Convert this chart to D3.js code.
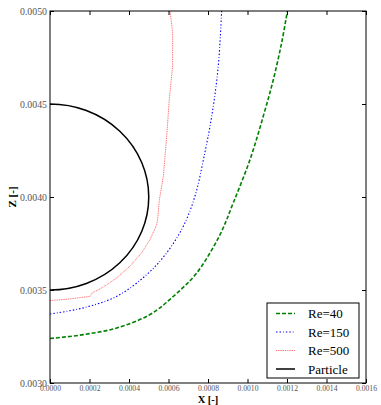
<!DOCTYPE html>
<html>
<head>
<meta charset="utf-8">
<script src="https://cdn.jsdelivr.net/npm/d3@7"></script>
<style>
  body { margin: 0; background: #fff; }
</style>
</head>
<body>
<div id="chart"></div>
<script>
// data (X [-], Z [-])
var re40X  = [0, 0.000169, 0.000338, 0.000506, 0.000625, 0.000743, 0.000861, 0.000928, 0.001013, 0.00108, 0.001131, 0.001173, 0.001202];
var re40Z  = [0.003239, 0.00326, 0.003296, 0.003368, 0.003466, 0.003592, 0.003798, 0.003969, 0.004202, 0.004435, 0.004632, 0.00483, 0.005];
var re150X = [0, 0.000169, 0.000338, 0.00049, 0.000591, 0.000675, 0.000734, 0.000777, 0.000819, 0.000852, 0.000869];
var re150Z = [0.003371, 0.003404, 0.003466, 0.003583, 0.0037, 0.003843, 0.004004, 0.004202, 0.004435, 0.004704, 0.005];
var re500X = [0, 0.000101, 0.000203, 0.000215, 0.000262, 0.000338, 0.000405, 0.000464, 0.000506, 0.00054, 0.000545, 0.000554, 0.000574, 0.000591, 0.000604, 0.000621, 0.000621, 0.000608];
var re500Z = [0.003443, 0.003452, 0.003466, 0.003485, 0.003511, 0.003565, 0.003628, 0.0037, 0.003771, 0.00385, 0.00388, 0.003987, 0.004112, 0.004327, 0.004525, 0.004704, 0.004883, 0.005];
var particleCenter = [0, 0.004];
var particleRadius = 0.0005;
var xTicks = [0, 0.0002, 0.0004, 0.0006, 0.0008, 0.0010, 0.0012, 0.0014, 0.0016];
var zTicks = [0.0030, 0.0035, 0.0040, 0.0045, 0.0050];
var seriesNames = ["Re=40", "Re=150", "Re=500", "Particle"];

var width = 381, height = 405;
var margin = {top: 11, right: 15, bottom: 22, left: 50};
var serif = "Liberation Serif";

var svg = d3.select("#chart").append("svg")
    .attr("width", width)
    .attr("height", height)
    .style("font-family", serif);

var x = d3.scaleLinear().domain([0, 0.0016]).range([margin.left, width - margin.right]);
var y = d3.scaleLinear().domain([0.003, 0.005]).range([height - margin.bottom, margin.top]);
var fmt = d3.format(".4f");

svg.append("clipPath").attr("id", "clip")
  .append("rect")
    .attr("x", x(0)).attr("y", y(0.005))
    .attr("width", x(0.0016) - x(0)).attr("height", y(0.003) - y(0.005));

var plot = svg.append("g").attr("clip-path", "url(#clip)");

function pairs(xs, zs) { return xs.map(function(d, i) { return [d, zs[i]]; }); }

var smooth = d3.line().x(function(d) { return x(d[0]); }).y(function(d) { return y(d[1]); })
    .curve(d3.curveCatmullRom);
var rough = d3.line().x(function(d) { return x(d[0]); }).y(function(d) { return y(d[1]); });

// particle
plot.append("ellipse")
    .attr("cx", x(particleCenter[0]))
    .attr("cy", y(particleCenter[1]))
    .attr("rx", x(particleRadius) - x(0))
    .attr("ry", y(particleCenter[1] - particleRadius) - y(particleCenter[1]))
    .attr("fill", "none").attr("stroke", "#000").attr("stroke-width", 1.5);

var styles = [
  {color: "#008000", dash: "4,2", w: 1.6},
  {color: "#0000ff", dash: "1.5,2,1.5,2,0.8,2", w: 1.1},
  {color: "#ff4444", dash: "1,0.8", w: 1.0},
  {color: "#000", dash: null, w: 1.5}
];

plot.append("path").attr("d", smooth(pairs(re40X, re40Z)))
    .attr("fill", "none").attr("stroke", styles[0].color).attr("stroke-width", styles[0].w)
    .attr("stroke-dasharray", styles[0].dash);
plot.append("path").attr("d", smooth(pairs(re150X, re150Z)))
    .attr("fill", "none").attr("stroke", styles[1].color).attr("stroke-width", styles[1].w)
    .attr("stroke-dasharray", styles[1].dash);
plot.append("path").attr("d", rough(pairs(re500X, re500Z)))
    .attr("fill", "none").attr("stroke", styles[2].color).attr("stroke-width", styles[2].w)
    .attr("stroke-dasharray", styles[2].dash).attr("opacity", 0.8);

// axes: inward ticks on all four sides
var tl = 4;
var xAxis = svg.append("g").attr("transform", "translate(0," + y(0.003) + ")")
    .call(d3.axisBottom(x).tickValues(xTicks).tickFormat(fmt).tickSizeInner(-tl).tickSizeOuter(0).tickPadding(2))
    .call(function(g) { g.select(".domain").remove(); });
svg.append("g").attr("transform", "translate(0," + y(0.005) + ")")
    .call(d3.axisTop(x).tickValues(xTicks).tickFormat("").tickSizeInner(-tl).tickSizeOuter(0))
    .call(function(g) { g.select(".domain").remove(); });
var yAxis = svg.append("g").attr("transform", "translate(" + x(0) + ",0)")
    .call(d3.axisLeft(y).tickValues(zTicks).tickFormat(fmt).tickSizeInner(-tl).tickSizeOuter(0).tickPadding(3))
    .call(function(g) { g.select(".domain").remove(); });
svg.append("g").attr("transform", "translate(" + x(0.0016) + ",0)")
    .call(d3.axisRight(y).tickValues(zTicks).tickFormat("").tickSizeInner(-tl).tickSizeOuter(0))
    .call(function(g) { g.select(".domain").remove(); });

svg.selectAll("g").attr("font-family", null);
xAxis.selectAll(".tick text")
    .attr("font-size", 9).attr("fill", "#555")
    .attr("textLength", 21).attr("lengthAdjust", "spacingAndGlyphs");
yAxis.selectAll(".tick text")
    .attr("font-size", 10).attr("fill", "#555")
    .attr("textLength", 27).attr("lengthAdjust", "spacingAndGlyphs");
svg.selectAll(".tick line").attr("stroke", "#000");

// frame
svg.append("rect")
    .attr("x", x(0)).attr("y", y(0.005))
    .attr("width", x(0.0016) - x(0)).attr("height", y(0.003) - y(0.005))
    .attr("fill", "none").attr("stroke", "#000").attr("stroke-width", 1);

// axis labels
svg.append("text")
    .attr("x", (x(0) + x(0.0016)) / 2).attr("y", 403)
    .attr("text-anchor", "middle").attr("font-size", 10.5).attr("font-weight", "bold")
    .text("X [-]");
svg.append("text")
    .attr("transform", "translate(16," + (y(0.004)) + ") rotate(-90)")
    .attr("text-anchor", "middle").attr("font-size", 11).attr("font-weight", "bold")
    .text("Z [-]");

// legend
var lg = svg.append("g").attr("transform", "translate(267,303)");
lg.append("rect").attr("width", 92).attr("height", 75)
    .attr("fill", "#fff").attr("stroke", "#000").attr("stroke-width", 1);
seriesNames.forEach(function(name, i) {
  var yy = 10.5 + i * 18.5;
  lg.append("line").attr("x1", 9).attr("x2", 28).attr("y1", yy).attr("y2", yy)
      .attr("stroke", styles[i].color).attr("stroke-width", styles[i].w)
      .attr("stroke-dasharray", styles[i].dash)
      .attr("opacity", i === 2 ? 0.8 : 1);
  lg.append("text").attr("x", 41).attr("y", yy + 4.5)
      .attr("font-size", 13).text(name);
});
</script>
</body>
</html>
